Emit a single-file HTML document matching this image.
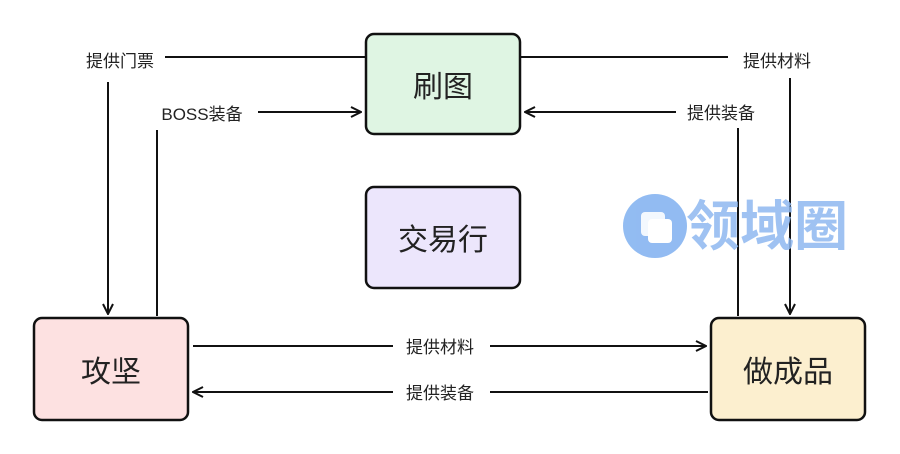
<!DOCTYPE html>
<html><head><meta charset="utf-8"><style>
html,body{margin:0;padding:0;background:#fff;width:900px;height:454px;overflow:hidden}
svg{display:block}
text{font-family:"Liberation Sans","Noto Sans CJK SC",sans-serif;fill:#222}
</style></head><body>
<svg width="900" height="454" viewBox="0 0 900 454" xmlns="http://www.w3.org/2000/svg">
<defs>
<marker id="a" viewBox="0 0 12 12" refX="11" refY="6" markerWidth="12" markerHeight="12" markerUnits="userSpaceOnUse" orient="auto">
<path d="M1,1 L11,6 L1,11" fill="none" stroke="#111" stroke-width="2"/>
</marker>
</defs>
<g fill="none" stroke="#111" stroke-width="2">
<line x1="365" y1="57" x2="165" y2="57"/>
<line x1="108" y1="82" x2="108" y2="314" marker-end="url(#a)"/>
<line x1="157" y1="316" x2="157" y2="130"/>
<line x1="258" y1="112" x2="361" y2="112" marker-end="url(#a)"/>
<line x1="521" y1="57" x2="728" y2="57"/>
<line x1="790" y1="78" x2="790" y2="314" marker-end="url(#a)"/>
<line x1="738" y1="316" x2="738" y2="128"/>
<line x1="676" y1="112" x2="525" y2="112" marker-end="url(#a)"/>
<line x1="193" y1="346" x2="393" y2="346"/>
<line x1="490" y1="346" x2="706" y2="346" marker-end="url(#a)"/>
<line x1="393" y1="392" x2="193" y2="392" marker-end="url(#a)"/>
<line x1="490" y1="392" x2="708" y2="392"/>
</g>
<g stroke="#111" stroke-width="2.5">
<rect x="366" y="34" width="154" height="100" rx="8" fill="#dff5e3"/>
<rect x="366" y="187" width="154" height="101" rx="8" fill="#ece6fc"/>
<rect x="34" y="318" width="154" height="102" rx="8" fill="#fde1e1"/>
<rect x="711" y="318" width="154" height="102" rx="8" fill="#fcefcf"/>
</g>
<g font-size="30" text-anchor="middle">
<text x="443" y="97">刷图</text>
<text x="443" y="250">交易行</text>
<text x="111" y="382">攻坚</text>
<text x="788" y="382">做成品</text>
</g>
<g font-size="17" text-anchor="middle">
<text x="120" y="67">提供门票</text>
<text x="202" y="120">BOSS装备</text>
<text x="777" y="67">提供材料</text>
<text x="721" y="119">提供装备</text>
<text x="440" y="353">提供材料</text>
<text x="440" y="399">提供装备</text>
</g>
<g opacity="0.85">
<circle cx="655" cy="226" r="32" fill="#7fb0f0"/>
<rect x="641" y="212" width="24" height="24" rx="4" fill="#fff" opacity="0.9"/>
<rect x="648" y="219" width="24" height="24" rx="4" fill="#fff"/>
<text x="686" y="245" font-size="54" font-weight="bold" style="fill:#8fb8f0">领域圈</text>
</g>
</svg>
</body></html>
